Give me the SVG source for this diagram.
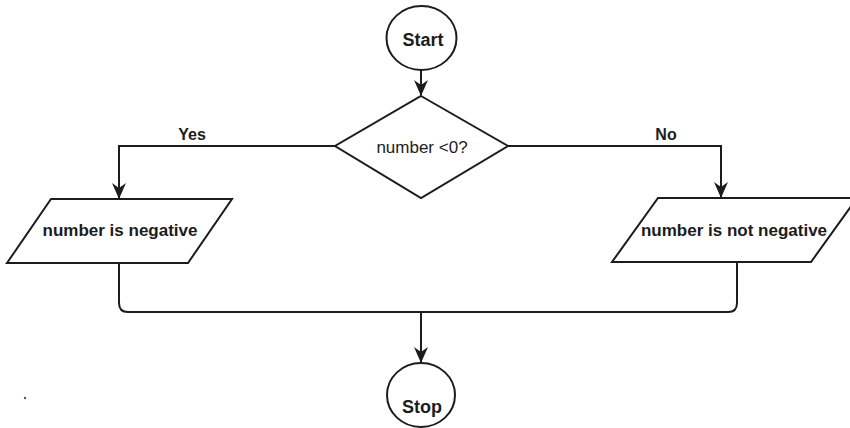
<svg xmlns="http://www.w3.org/2000/svg" width="850" height="428" viewBox="0 0 850 428">
  <style>
    .shape { fill: #ffffff; stroke: #1c1c1c; stroke-width: 2; }
    .edge { fill: none; stroke: #1c1c1c; stroke-width: 2; }
    .label { font-family: "Liberation Sans", Arial, sans-serif; fill: #1c1c1c; text-anchor: middle; }
    .term { font-size: 18px; font-weight: bold; }
    .io { font-size: 17px; font-weight: bold; }
    .cond { font-size: 17px; }
    .branch { font-size: 16px; font-weight: bold; }
  </style>
  <defs>
    <marker id="arrow" markerUnits="userSpaceOnUse" markerWidth="16" markerHeight="16" viewBox="0 0 16 16" refX="15" refY="8" orient="auto">
      <path d="M0,1 L16,8 L0,15 L5,8 z" fill="#1c1c1c"/>
    </marker>
  </defs>

  <rect width="850" height="428" fill="#ffffff"/>

  <!-- connectors -->
  <g id="connectors">
    <path class="edge" d="M421 70 V95" marker-end="url(#arrow)"/>
    <path class="edge" d="M335 146 H119 V198" marker-end="url(#arrow)"/>
    <path class="edge" d="M508 146 H721 V197" marker-end="url(#arrow)"/>
    <path class="edge" d="M119 263 V303 Q119 312 128 312 H728 Q737 312 737 303 V262"/>
    <path class="edge" d="M421 312 V362" marker-end="url(#arrow)"/>
    <text class="label branch" x="192" y="140">Yes</text>
    <text class="label branch" x="666" y="140">No</text>
  </g>

  <!-- start terminal -->
  <g id="start">
    <ellipse class="shape" cx="421.5" cy="38" rx="35" ry="32"/>
    <text class="label term" x="423" y="46">Start</text>
  </g>

  <!-- decision -->
  <g id="decision">
    <polygon class="shape" points="421,96 508,146 421,198 335,146"/>
    <text class="label cond" x="422" y="153">number &lt;0?</text>
  </g>

  <!-- output: negative -->
  <g id="negative">
    <polygon class="shape" points="51,199 232,199 188,263 7,263"/>
    <text class="label io" x="120" y="236">number is negative</text>
  </g>

  <!-- output: not negative -->
  <g id="not-negative">
    <polygon class="shape" points="658,198 857,198 811,262 612,262"/>
    <text class="label io" x="734" y="236">number is not negative</text>
  </g>

  <!-- stop terminal -->
  <g id="stop">
    <ellipse class="shape" cx="421" cy="395" rx="34" ry="32"/>
    <text class="label term" x="422" y="413">Stop</text>
  </g>

  <circle cx="25" cy="398" r="1.2" fill="#555555"/>
</svg>
